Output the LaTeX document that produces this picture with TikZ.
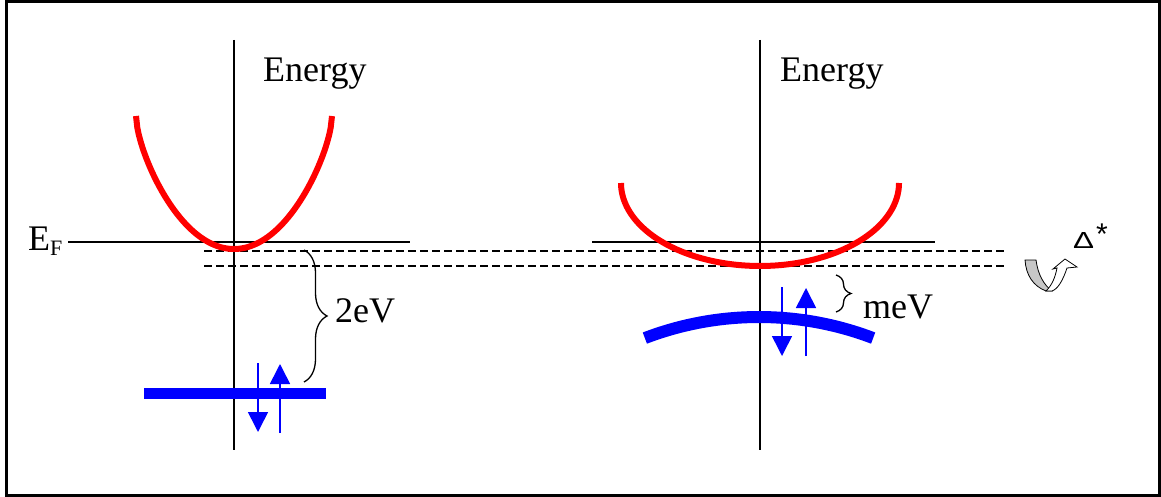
\documentclass[tikz,border=0pt]{standalone}
\usepackage{fontspec}
\setmainfont{Liberation Serif}
\setsansfont{Liberation Sans}
\usetikzlibrary{arrows.meta,decorations.pathreplacing}
\tikzset{
  axisline/.style={line width=1.5pt,black},
  levelline/.style={line width=1.3pt,black},
  dashline/.style={line width=1.3pt,black,dash pattern=on 8pt off 4pt},
  band/.style={red,line width=6pt},
  blueband/.style={blue,line width=11pt},
  spinarrow/.style={blue,line width=1.6pt,-{Triangle[width=20pt,length=20pt]}},
  bracestyle/.style={black,line width=1.3pt,decorate},
  lbl/.style={inner sep=0pt,anchor=base west,font=\fontsize{36}{40}\selectfont},
  dlbl/.style={inner sep=0pt,anchor=base west,font=\sffamily\fontsize{30}{34}\selectfont},
}
\begin{document}
\begin{tikzpicture}[x=1pt,y=-1pt]
\useasboundingbox (0,0) rectangle (1161,497);
% frame
\draw[line width=3pt] (6.5,1.5) rectangle (1159.5,495.5);
% axes
\coordinate (la1) at (234,40); \coordinate (la2) at (234,450);
\coordinate (ra1) at (760,40); \coordinate (ra2) at (760,450);
\draw[axisline] (la1) -- (la2);
\draw[axisline] (ra1) -- (ra2);
% Fermi levels
\coordinate (ef1) at (68,242); \coordinate (ef2) at (410,242);
\coordinate (ef3) at (592,242); \coordinate (ef4) at (935,242);
\draw[levelline] (ef1) -- (ef2);
\draw[levelline] (ef3) -- (ef4);
% dashed lines
\coordinate (d1a) at (204,251); \coordinate (d1b) at (1005,251);
\coordinate (d2a) at (204,266); \coordinate (d2b) at (1005,266);
\draw[dashline] (d1a) -- (d1b);
\draw[dashline] (d2a) -- (d2b);
% red bands
\draw[band] plot[domain=-97.99:97.99,samples=150]
  ({234+\x},{249-134*(0.5*(\x/98)^2+0.5*(1-sqrt(1-(\x/98)^2)))});
\draw[band] plot[domain=0:180,samples=120] ({760+139*cos(\x)},{183+83*sin(\x)});
% blue bands
\coordinate (bl1) at (144,393); \coordinate (bl2) at (326,393);
\draw[blueband] (bl1) -- (bl2);
\draw[blue,line width=12pt] plot[domain=-20.9:20.9,samples=60] ({759+320*sin(\x)},{637-320*cos(\x)});
% spin arrows left
\coordinate (s1a) at (258,363); \coordinate (s1b) at (258,432);
\coordinate (s2a) at (280,433); \coordinate (s2b) at (280,364);
\draw[spinarrow] (s1a) -- (s1b);
\draw[spinarrow] (s2a) -- (s2b);
% spin arrows right
\coordinate (s3a) at (782,287); \coordinate (s3b) at (782,356);
\coordinate (s4a) at (806,356); \coordinate (s4b) at (806,288);
\draw[spinarrow] (s3a) -- (s3b);
\draw[spinarrow] (s4a) -- (s4b);
% braces
\coordinate (b1a) at (304,250); \coordinate (b1b) at (304,382);
\draw[bracestyle,decoration={brace,amplitude=23pt}] (b1a) -- (b1b);
\coordinate (b2a) at (836,275); \coordinate (b2b) at (836,312);
\draw[bracestyle,decoration={brace,amplitude=15pt}] (b2a) -- (b2b);
% labels
\node[lbl] (en1) at (263,82) {Energy};
\node[lbl] (en2) at (780,82) {Energy};
\node[lbl] (ef) at (28,250) {E{\fontsize{22}{24}\selectfont\raisebox{-5pt}{F}}};
\node[lbl] (gap1) at (335,322) {2eV};
\node[lbl] (gap2) at (863,318) {meV};
\node[dlbl] (delta) at (1073,248)
  {\resizebox{21pt}{16pt}{Δ}\hspace{2pt}\raisebox{4pt}{*}};
% curved arrow symbol
\filldraw[fill=black!22,draw=black,line width=0.8pt]
  (1025,260) -- (1036,260) .. controls (1038,275) and (1044,285) .. (1052,291)
  -- (1046,291) .. controls (1033,286) and (1026,275) .. (1025,260) -- cycle;
\filldraw[fill=white,draw=black,line width=0.8pt]
  (1046,291) .. controls (1052,285) and (1055,278) .. (1057,268)
  -- (1053,269) -- (1065,259) -- (1077,267) -- (1067,268)
  .. controls (1063,280) and (1058,289) .. (1052,291) -- cycle;
\end{tikzpicture}
\end{document}
